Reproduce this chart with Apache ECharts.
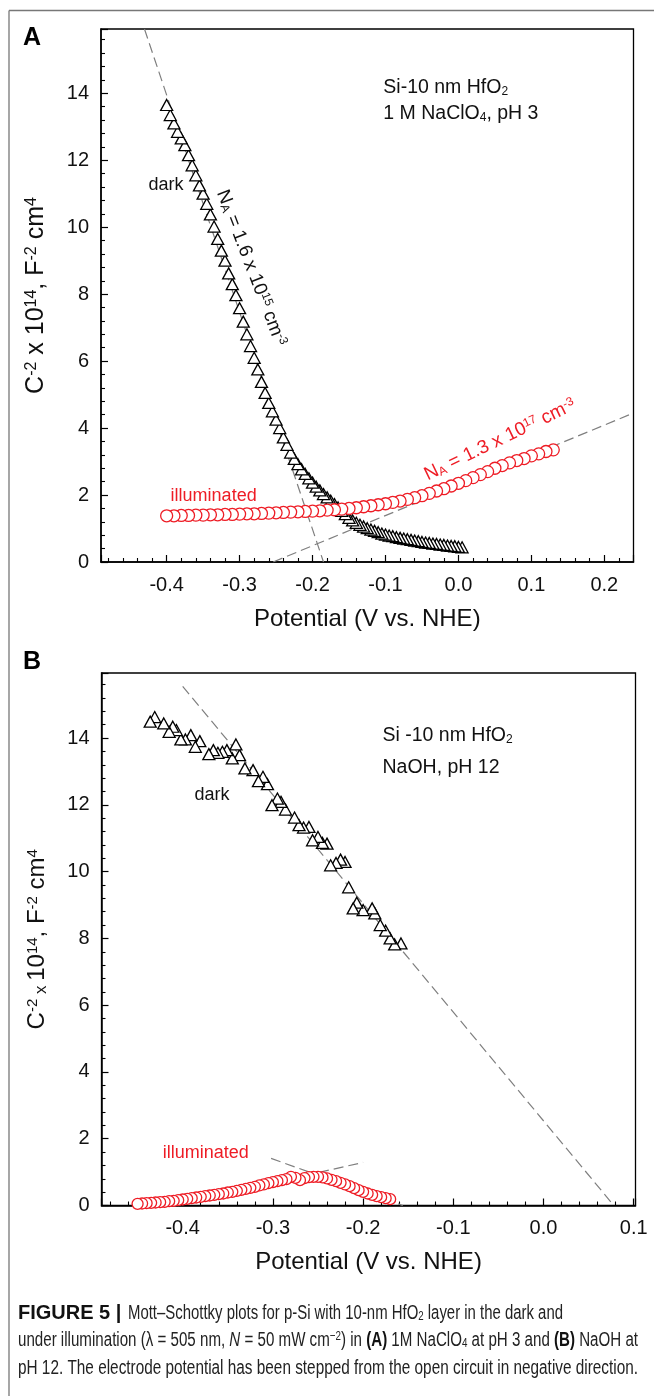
<!DOCTYPE html>
<html>
<head>
<meta charset="utf-8">
<script src="https://cdn.jsdelivr.net/npm/echarts@6/dist/echarts.min.js"></script>
<style>
  html, body { margin: 0; padding: 0; background: #fff; }
  #chart { width: 654px; height: 1396px; }
</style>
</head>
<body>
<div id="chart"></div>
<script>
// ---------- Panel A: 1 M NaClO4, pH 3 ----------
// dark (triangles), potential in V vs. NHE, C^-2 in 1e14 F^-2 cm^4
const darkA_V = [-0.400,-0.395,-0.390,-0.385,-0.380,-0.375,-0.370,-0.365,-0.360,-0.355,
  -0.350,-0.345,-0.340,-0.335,-0.330,-0.325,-0.320,-0.315,-0.310,-0.305,
  -0.300,-0.295,-0.290,-0.285,-0.280,-0.275,-0.270,-0.265,-0.260,-0.255,
  -0.250,-0.245,-0.240,-0.235,-0.230,-0.225,-0.220,-0.215,-0.210,-0.205,
  -0.200,-0.195,-0.190,-0.185,-0.180,-0.175,-0.170,-0.165,-0.160,-0.155,
  -0.150,-0.145,-0.140,-0.135,-0.130,-0.125,-0.120,-0.115,-0.110,-0.105,
  -0.100,-0.095,-0.090,-0.085,-0.080,-0.075,-0.070,-0.065,-0.060,-0.055,
  -0.050,-0.045,-0.040,-0.035,-0.030,-0.025,-0.020,-0.015,-0.010,-0.005,
  0.000,0.005];
const darkA_C = [13.65,13.35,13.10,12.85,12.65,12.45,12.15,11.85,11.55,11.25,
  11.00,10.70,10.38,10.02,9.65,9.30,9.00,8.62,8.30,7.97,
  7.58,7.18,6.80,6.45,6.10,5.75,5.38,5.05,4.75,4.50,
  4.25,4.00,3.72,3.50,3.27,3.08,2.92,2.77,2.63,2.50,
  2.37,2.25,2.14,2.03,1.93,1.83,1.73,1.63,1.53,1.43,
  1.32,1.24,1.17,1.11,1.06,1.01,0.97,0.93,0.89,0.85,
  0.82,0.79,0.77,0.74,0.72,0.70,0.68,0.66,0.64,0.62,
  0.60,0.58,0.57,0.55,0.54,0.52,0.51,0.49,0.48,0.47,
  0.45,0.44];
// illuminated (circles)
const illumA_V = [-0.40,-0.39,-0.38,-0.37,-0.36,-0.35,-0.34,-0.33,-0.32,-0.31,
  -0.30,-0.29,-0.28,-0.27,-0.26,-0.25,-0.24,-0.23,-0.22,-0.21,
  -0.20,-0.19,-0.18,-0.17,-0.16,-0.15,-0.14,-0.13,-0.12,-0.11,
  -0.10,-0.09,-0.08,-0.07,-0.06,-0.05,-0.04,-0.03,-0.02,-0.01,
  0.00,0.01,0.02,0.03,0.04,0.05,0.06,0.07,0.08,0.09,
  0.10,0.11,0.12,0.13];
const illumA_C = [1.38,1.38,1.39,1.39,1.40,1.40,1.41,1.41,1.42,1.42,
  1.43,1.44,1.44,1.45,1.46,1.47,1.48,1.49,1.50,1.51,
  1.52,1.53,1.55,1.56,1.58,1.60,1.62,1.65,1.68,1.71,
  1.74,1.78,1.82,1.87,1.92,1.98,2.05,2.12,2.19,2.27,
  2.35,2.43,2.52,2.61,2.70,2.80,2.88,2.96,3.03,3.09,
  3.17,3.23,3.30,3.35];
// linear Mott–Schottky fits (end points)
const fitA_dark = [[-0.4304, 15.92], [-0.185, 0]];
const fitA_illum = [[-0.254, 0], [0.24, 4.45]];

// ---------- Panel B: NaOH, pH 12 ----------
const darkB_V = [-0.436,-0.431,-0.421,-0.415,-0.411,-0.407,-0.402,-0.397,-0.391,-0.386,
  -0.381,-0.371,-0.366,-0.361,-0.356,-0.351,-0.345,-0.341,-0.337,-0.331,
  -0.322,-0.316,-0.311,-0.306,-0.301,-0.295,-0.291,-0.286,-0.276,-0.271,
  -0.266,-0.260,-0.256,-0.250,-0.245,-0.240,-0.236,-0.230,-0.225,-0.220,
  -0.216,-0.211,-0.207,-0.200,-0.190,-0.187,-0.181,-0.175,-0.170,-0.165,
  -0.158];
const darkB_C = [14.49,14.63,14.44,14.19,14.34,14.24,13.96,13.96,14.09,13.74,
  13.91,13.52,13.64,13.56,13.59,13.64,13.39,13.81,13.49,13.09,
  13.04,12.71,12.84,12.62,11.99,12.19,12.09,11.86,11.62,11.39,
  11.32,11.34,10.94,11.04,10.86,10.84,10.19,10.26,10.36,10.29,
  9.53,8.90,9.07,8.85,8.90,8.75,8.40,8.23,8.00,7.82,
  7.85];
const illumB_V = [-0.450,-0.445,-0.440,-0.435,-0.430,-0.425,-0.420,-0.415,-0.410,-0.405,
  -0.400,-0.395,-0.390,-0.385,-0.380,-0.375,-0.370,-0.365,-0.360,-0.355,
  -0.350,-0.345,-0.340,-0.335,-0.330,-0.325,-0.320,-0.315,-0.310,-0.305,
  -0.300,-0.295,-0.290,-0.285,-0.280,-0.275,-0.270,-0.265,-0.260,-0.255,
  -0.250,-0.245,-0.240,-0.235,-0.230,-0.225,-0.220,-0.215,-0.210,-0.205,
  -0.200,-0.195,-0.190,-0.185,-0.180,-0.175,-0.170];
const illumB_C = [0.05,0.06,0.07,0.08,0.09,0.10,0.11,0.13,0.14,0.16,
  0.18,0.20,0.22,0.24,0.26,0.28,0.30,0.32,0.34,0.36,
  0.39,0.41,0.44,0.47,0.50,0.53,0.56,0.60,0.63,0.67,
  0.70,0.73,0.76,0.79,0.86,0.83,0.76,0.82,0.85,0.86,
  0.86,0.84,0.81,0.77,0.73,0.68,0.63,0.58,0.52,0.46,
  0.41,0.36,0.32,0.28,0.25,0.22,0.19];
const fitB_dark = [[-0.400, 15.55], [0.078, 0]];
const fitB_rise = [[-0.411, 0], [-0.200, 1.29]];
const fitB_fall = [[-0.302, 1.41], [-0.156, 0]];

// ---------- styling ----------
const FONT = "'Liberation Sans', Arial, Helvetica, sans-serif";
const RED = '#ee1c25';
const DASH = '#7f7f7f';
const INK = '#111';

// points are drawn in the order they were recorded: from open circuit toward negative potential
function pairs(xs, ys) {
  const out = xs.map((x, i) => [x, ys[i]]);
  return out.reverse();
}

// m: normal, p: superscript, s: subscript, x: small multiplication sign
function richSet(size, color) {
  const small = Math.round(size * 0.64);
  const lh = Math.round(size * 0.45);
  return {
    m: { fontSize: size, fontFamily: FONT, color: color, fill: color },
    p: { fontSize: small, fontFamily: FONT, color: color, fill: color, verticalAlign: 'top', lineHeight: lh },
    s: { fontSize: small, fontFamily: FONT, color: color, fill: color, verticalAlign: 'bottom', lineHeight: lh },
    x: { fontSize: Math.round(size * 0.7), fontFamily: FONT, color: color, fill: color, verticalAlign: 'bottom', lineHeight: Math.round(size * 0.75) }
  };
}

const yNameA = '{m|C}{p|-2}{m| x 10}{p|14}{m|, F}{p|-2}{m| cm}{p|4}';
const yNameB = '{m|C}{p|-2}{x| x }{m|10}{p|14}{m|, F}{p|-2}{m| cm}{p|4}';

function xAxisCfg(idx, min, max, split) {
  return {
    type: 'value', gridIndex: idx, min: min, max: max, splitNumber: split,
    name: 'Potential (V vs. NHE)', nameLocation: 'middle', nameGap: 45,
    nameTextStyle: { fontSize: 24, fontFamily: FONT, color: INK },
    axisLine: { show: true, onZero: false, lineStyle: { color: '#000', width: 1.5 } },
    axisTick: { show: true, inside: true, length: 7, lineStyle: { color: '#000', width: 1.2 } },
    minorTick: { show: true, splitNumber: 5, length: 4, lineStyle: { color: '#000', width: 1.1 } },
    splitLine: { show: false }, minorSplitLine: { show: false },
    axisLabel: {
      fontSize: 20, fontFamily: FONT, color: INK, margin: 13,
      formatter: v => (Math.abs(v * 10 - Math.round(v * 10)) < 1e-6 ? v.toFixed(1) : '')
    }
  };
}
function yAxisCfg(idx, max, name, nameSize) {
  return {
    type: 'value', gridIndex: idx, min: 0, max: max, splitNumber: 8,
    name: name, nameLocation: 'middle', nameGap: 52, nameRotate: 90,
    nameTextStyle: { rich: richSet(nameSize, INK) },
    axisLine: { show: true, onZero: false, lineStyle: { color: '#000', width: 1.5 } },
    axisTick: { show: true, inside: true, length: 7, lineStyle: { color: '#000', width: 1.2 } },
    minorTick: { show: true, splitNumber: 5, length: 4, lineStyle: { color: '#000', width: 1.1 } },
    splitLine: { show: false }, minorSplitLine: { show: false },
    axisLabel: {
      fontSize: 20, fontFamily: FONT, color: INK, margin: 12,
      formatter: v => (Math.abs(v / 2 - Math.round(v / 2)) < 1e-6 ? String(Math.round(v)) : '')
    }
  };
}

function fitLine(idx, data) {
  return {
    type: 'line', xAxisIndex: idx, yAxisIndex: idx, data: data,
    symbol: 'none', silent: true, z: 1,
    lineStyle: { color: DASH, width: 1.2, type: [10, 5] }
  };
}
function darkSeries(idx, data) {
  return {
    type: 'scatter', xAxisIndex: idx, yAxisIndex: idx, data: data,
    symbol: 'triangle', symbolSize: [12, 11], z: 3,
    itemStyle: { color: '#fff', borderColor: '#000', borderWidth: 1.3, opacity: 1 }
  };
}
function illumSeries(idx, data, size) {
  return {
    type: 'scatter', xAxisIndex: idx, yAxisIndex: idx, data: data,
    symbol: 'circle', symbolSize: size, z: 4,
    itemStyle: { color: '#fff', borderColor: RED, borderWidth: 1.3, opacity: 1 }
  };
}

const chart = echarts.init(document.getElementById('chart'), null, { renderer: 'canvas' });
chart.setOption({
  animation: false,
  backgroundColor: '#fff',
  grid: [
    { left: 101, top: 29, width: 532.5, height: 533, show: true, borderColor: '#000', borderWidth: 1.3, backgroundColor: 'transparent' },
    { left: 101.5, top: 673, width: 534, height: 532.5, show: true, borderColor: '#000', borderWidth: 1.3, backgroundColor: 'transparent' }
  ],
  xAxis: [xAxisCfg(0, -0.49, 0.24, 7), xAxisCfg(1, -0.49, 0.102, 6)],
  yAxis: [yAxisCfg(0, 15.92, yNameA, 25), yAxisCfg(1, 15.95, yNameB, 24)],
  series: [
    fitLine(0, fitA_dark),
    fitLine(0, fitA_illum),
    darkSeries(0, pairs(darkA_V, darkA_C)),
    illumSeries(0, pairs(illumA_V, illumA_C), 12),
    fitLine(1, fitB_dark),
    fitLine(1, fitB_rise),
    fitLine(1, fitB_fall),
    darkSeries(1, pairs(darkB_V, darkB_C)),
    illumSeries(1, pairs(illumB_V, illumB_C), 11)
  ]
});

// ---------- annotations placed in data coordinates ----------
function px(idx, pt) {
  return chart.convertToPixel({ xAxisIndex: idx, yAxisIndex: idx }, pt);
}
function label(idx, pt, text, size, color, opts) {
  const p = px(idx, pt);
  opts = opts || {};
  return {
    type: 'text', x: p[0], y: p[1], rotation: opts.rotation || 0, z: 10,
    style: {
      text: text, rich: richSet(size, color), fill: color,
      align: opts.align || 'left', verticalAlign: 'middle'
    }
  };
}
const deg = Math.PI / 180;

// ---------- caption: bold lead-in plus condensed body text ----------
const CAP_SIZE = 20;
const capRich = {
  r: { fontSize: CAP_SIZE, fontFamily: FONT, fill: '#222' },
  b: { fontSize: CAP_SIZE, fontFamily: FONT, fill: '#111', fontWeight: 'bold' },
  i: { fontSize: CAP_SIZE, fontFamily: FONT, fill: '#222', fontStyle: 'italic' },
  p: { fontSize: 13, fontFamily: FONT, fill: '#222', verticalAlign: 'top', lineHeight: 8 },
  s: { fontSize: 13, fontFamily: FONT, fill: '#222', verticalAlign: 'bottom', lineHeight: 8 }
};
const captionRuns = [
  { x0: 128, x1: 563, y: 1313, parts: [['r', 'Mott–Schottky plots for p-Si with 10-nm HfO'], ['s', '2'], ['r', ' layer in the dark and']] },
  { x0: 18, x1: 638, y: 1340, parts: [['r', 'under illumination (λ = 505 nm, '], ['i', 'N'], ['r', ' = 50 mW cm'], ['p', '−2'], ['r', ') in '], ['b', '(A)'], ['r', ' 1M NaClO'], ['s', '4'], ['r', ' at pH 3 and '], ['b', '(B)'], ['r', ' NaOH at']] },
  { x0: 18, x1: 638, y: 1368, parts: [['r', 'pH 12. The electrode potential has been stepped from the open circuit in negative direction.']] }
];
const mctx = document.createElement('canvas').getContext('2d');
function partWidth(part) {
  const st = capRich[part[0]];
  mctx.font = (st.fontStyle ? st.fontStyle + ' ' : '') + (st.fontWeight ? st.fontWeight + ' ' : '') + st.fontSize + 'px ' + FONT;
  return mctx.measureText(part[1]).width;
}
const captionGraphics = captionRuns.map(run => {
  const w = run.parts.reduce((a, p) => a + partWidth(p), 0);
  return {
    type: 'text', x: run.x0, y: run.y, scaleX: (run.x1 - run.x0) / w, scaleY: 1,
    style: { text: run.parts.map(p => '{' + p[0] + '|' + p[1] + '}').join(''), rich: capRich, align: 'left', verticalAlign: 'middle' }
  };
});
captionGraphics.push({
  type: 'text', x: 18, y: 1313,
  style: { text: 'FIGURE 5 |', fontSize: CAP_SIZE, fontWeight: 'bold', fontFamily: FONT, fill: '#111', align: 'left', verticalAlign: 'middle' }
});

chart.setOption({
  graphic: [
    // figure frame
    { type: 'line', shape: { x1: 9, y1: 10.5, x2: 654, y2: 10.5 }, style: { stroke: '#777', lineWidth: 1.3 } },
    { type: 'line', shape: { x1: 9, y1: 10.5, x2: 9, y2: 1396 }, style: { stroke: '#777', lineWidth: 1.3 } },
    // panel letters
    { type: 'text', x: 23, y: 38, style: { text: 'A', fontSize: 25, fontWeight: 'bold', fontFamily: FONT, fill: '#000', verticalAlign: 'middle' } },
    { type: 'text', x: 23, y: 662, style: { text: 'B', fontSize: 25, fontWeight: 'bold', fontFamily: FONT, fill: '#000', verticalAlign: 'middle' } },
    // panel A texts
    label(0, [-0.103, 14.16], '{m|Si-10 nm HfO}{s|2}', 19.5, INK),
    label(0, [-0.103, 13.38], '{m|1 M NaClO}{s|4}{m|, pH 3}', 19.5, INK),
    label(0, [-0.425, 11.26], '{m|dark}', 18, INK),
    label(0, [-0.284, 8.78], '{m|N}{s|A}{m| = 1.6 x 10}{p|15}{m| cm}{p|-3}', 19, INK, { align: 'center', rotation: -69 * deg }),
    label(0, [0.057, 3.65], '{m|N}{s|A}{m| = 1.3 x 10}{p|17}{m| cm}{p|-3}', 19, RED, { align: 'center', rotation: 25.8 * deg }),
    label(0, [-0.3356, 1.96], '{m|illuminated}', 18, RED, { align: 'center' }),
    // panel B texts
    label(1, [-0.1785, 14.06], '{m|Si -10 nm HfO}{s|2}', 19.5, INK),
    label(1, [-0.1785, 13.13], '{m|NaOH, pH 12}', 19.5, INK),
    label(1, [-0.387, 12.29], '{m|dark}', 18, INK),
    label(1, [-0.3744, 1.58], '{m|illuminated}', 18, RED, { align: 'center' })
  ].concat(captionGraphics)
});
</script>
</body>
</html>
